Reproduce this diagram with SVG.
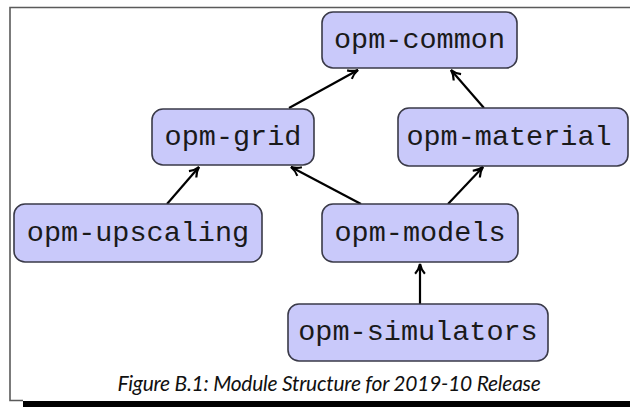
<svg xmlns="http://www.w3.org/2000/svg" width="630" height="407" viewBox="0 0 630 407">
<style>
.box{fill:#c9c9fa;stroke:#3a3a48;stroke-width:1.6}
.lbl{font-family:"Liberation Mono","Courier New",monospace;font-size:28.5px;fill:#1a1a1a;text-anchor:middle}
.edge{stroke:#000;stroke-width:2.2;fill:none;marker-end:url(#arr)}
.frame{stroke:#5a5a5a;stroke-width:1.6;fill:none}
.cap{font-family:Lato,"Open Sans",sans-serif;font-style:italic;font-size:21px;letter-spacing:-0.25px;fill:#111;text-anchor:middle}
</style>
<defs>
<marker id="arr" viewBox="0 0 12 12" refX="10" refY="6" markerWidth="13" markerHeight="13" markerUnits="userSpaceOnUse" orient="auto">
<path d="M1,1.5 Q5,5 10,6 Q5,7 1,10.5" fill="none" stroke="#000" stroke-width="2"/>
</marker>
</defs>
<rect width="630" height="407" fill="#fff"/>
<path class="frame" d="M630,7.5 H10 V400.5 H23"/>
<rect x="23" y="401" width="607" height="6" fill="#000"/>
<g id="connectors">
<line class="edge" x1="289" y1="108" x2="358" y2="70"/>
<line class="edge" x1="484" y1="108" x2="451" y2="70"/>
<line class="edge" x1="167" y1="204" x2="199" y2="167"/>
<line class="edge" x1="361" y1="204" x2="291" y2="167"/>
<line class="edge" x1="448" y1="204" x2="483" y2="167"/>
<line class="edge" x1="420" y1="304" x2="420" y2="264"/>
</g>
<g id="opm-common">
<rect class="box" x="322" y="12" width="195" height="56" rx="11"/>
<text class="lbl" x="419.5" y="48">opm-common</text>
</g>
<g id="opm-grid">
<rect class="box" x="152" y="109" width="162" height="56" rx="11"/>
<text class="lbl" x="233" y="145">opm-grid</text>
</g>
<g id="opm-material">
<rect class="box" x="398" y="108" width="230" height="58" rx="11"/>
<text class="lbl" x="509" y="145">opm-material</text>
</g>
<g id="opm-upscaling">
<rect class="box" x="14" y="204" width="248" height="58" rx="11"/>
<text class="lbl" x="138" y="241">opm-upscaling</text>
</g>
<g id="opm-models">
<rect class="box" x="322" y="204" width="196" height="58" rx="11"/>
<text class="lbl" x="420" y="241">opm-models</text>
</g>
<g id="opm-simulators">
<rect class="box" x="288" y="304" width="260" height="57" rx="11"/>
<text class="lbl" x="418" y="340">opm-simulators</text>
</g>
<text class="cap" x="329" y="391">Figure B.1: Module Structure for 2019-10 Release</text>
</svg>
